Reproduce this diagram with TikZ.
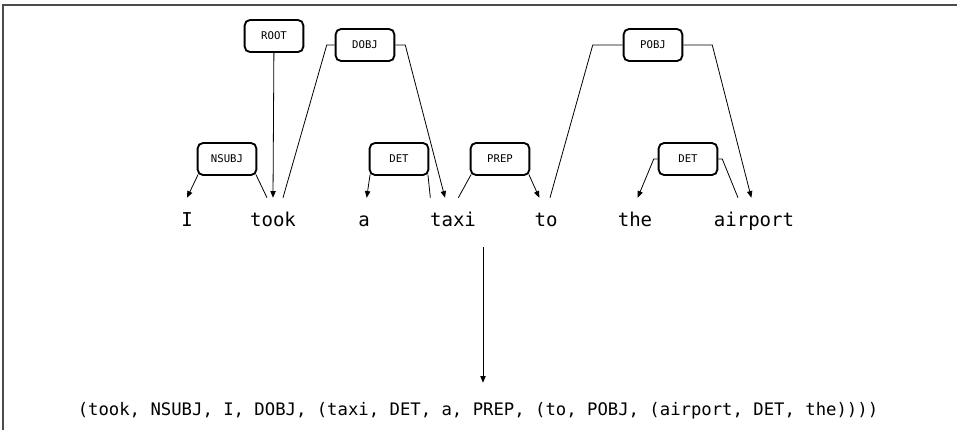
\documentclass[tikz,border=0pt]{standalone}
\usepackage{fontspec}
\setmonofont{DejaVu Sans Mono}
\usetikzlibrary{positioning,arrows.meta,calc}

\begin{document}
\begin{tikzpicture}[x=0.75pt, y=-0.75pt, >={Triangle[length=5pt,width=4pt]},
  word/.style={anchor=base, inner xsep=0pt, inner ysep=10pt, text height=11pt, text depth=3pt,
    font=\ttfamily\fontsize{14.3}{16}\selectfont},
  dep/.style={draw, rounded corners=4pt, line width=1.4pt, minimum width=44pt, minimum height=24pt,
    inner sep=0pt, font=\ttfamily\fontsize{8}{9}\selectfont},
  arc/.style={line width=0.6pt}]
  \useasboundingbox (0,0) rectangle (957,430);
  \draw[line width=1.5pt, black!70] (3,430) -- (3,5) -- (957,5);

  % the sentence
  \node[word] (I) at (187,226) {I};
  \node[word] (took) at (273,226) {took};
  \node[word] (a) at (364,226) {a};
  \node[word] (taxi) at (453,226) {taxi};
  \node[word] (to) at (546,226) {to};
  \node[word] (the) at (635,226) {the};
  \node[word] (airport) at (754,226) {airport};

  % relation labels
  \node[dep] (Root) at (274,36) {ROOT};
  \node[dep] (Dobj) at (365,45) {DOBJ};
  \node[dep] (Nsubj) at (227,159) {NSUBJ};
  \node[dep] (DetA) at (399,159) {DET};
  \node[dep] (Prep) at (500,159) {PREP};
  \node[dep] (Pobj) at (653,45) {POBJ};
  \node[dep] (DetThe) at (688,159) {DET};

  \draw[arc, ->] (Root) -- (took.north);

  \draw[arc, ->] ([shift={(1pt,1pt)}]Nsubj.south west) -- (I.north);
  \draw[arc] ([shift={(-1pt,1pt)}]Nsubj.south east) -- ([xshift=-4.5pt]took.north);

  \draw[arc] (Dobj.west) -- ++(-8,0) -- ([xshift=7.5pt]took.north);
  \draw[arc, ->] (Dobj.east) -- ++(10,0) -- ([xshift=-6pt]taxi.north);

  \draw[arc, ->] ([shift={(1pt,1pt)}]DetA.south west) -- ([xshift=2pt]a.north);
  \draw[arc] ([shift={(-1pt,1pt)}]DetA.south east) -- ([xshift=-17pt]taxi.north);

  \draw[arc] ([shift={(1pt,1pt)}]Prep.south west) -- ([xshift=4pt]taxi.north);
  \draw[arc, ->] ([shift={(-1pt,1pt)}]Prep.south east) -- ([xshift=-5pt]to.north);

  \draw[arc] (Pobj.west) -- ++(-30,0) -- ([xshift=3pt]to.north);
  \draw[arc, ->] (Pobj.east) -- ++(29,0) -- ([xshift=-2pt]airport.north);

  \draw[arc, ->] (DetThe.west) -- ++(-4,0) -- ([xshift=2pt]the.north);
  \draw[arc] (DetThe.east) -- ++(4,0) -- ([xshift=-12pt]airport.north);

  % nested tuple
  \node[anchor=base, inner ysep=14pt, text height=10pt, font=\ttfamily\fontsize{12.95}{15}\selectfont]
    (Tuple) at (478,415) {(took, NSUBJ, I, DOBJ, (taxi, DET, a, PREP, (to, POBJ, (airport, DET, the))))};
  \coordinate (Split) at (483,247);
  \draw[arc, ->] (Split) -- (Split |- Tuple.north);
\end{tikzpicture}
\end{document}
